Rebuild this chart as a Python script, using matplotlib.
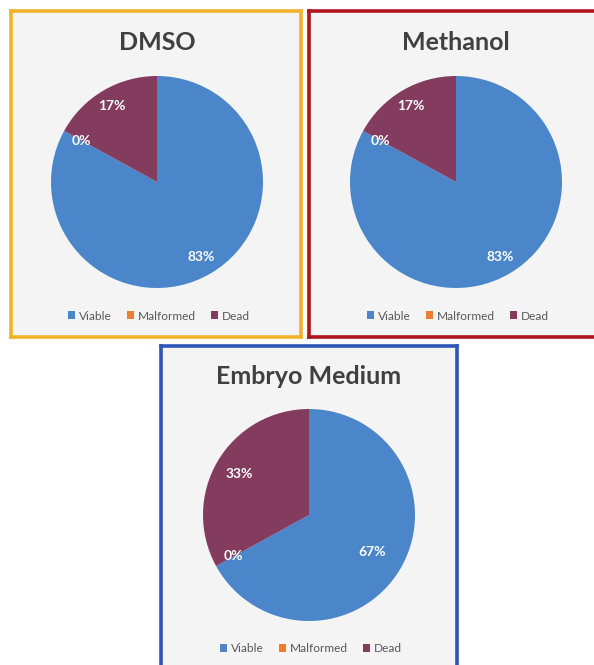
import matplotlib
matplotlib.use("Agg")
import matplotlib.pyplot as plt

plt.rcParams['font.family'] = ['Lato', 'DejaVu Sans']

categories = ['Viable', 'Malformed', 'Dead']
titles = ['DMSO', 'Methanol', 'Embryo Medium']
dmso = [83, 0, 17]
methanol = [83, 0, 17]
embryo = [67, 0, 33]
values = [dmso, methanol, embryo]

colors = ['#4A86C9', '#ED7D31', '#833C5E']
border_colors = ['#F2B32B', '#B0141D', '#2F55B8']

W, H = 594, 665
fig = plt.figure(figsize=(W / 100, H / 100), dpi=100)
fig.patch.set_facecolor('white')

# panel boxes in pixels: left, top, right, bottom
boxes = [(11, 11, 301, 337), (309, 11, 610, 337), (161, 346, 457, 680)]
# pie centre (x, y) and radius in pixels
pies = [(157, 182), (456, 182), (309, 515)]
R = 106
title_y = [43, 43, 376]
legend_y = [316, 316, 649]
label_r = [[0.82, 0.81, 0.83], [0.82, 0.81, 0.83], [0.69, 0.81, 0.76]]


def fx(x):
    return x / W


def fy(y):
    return 1 - y / H


for i in range(3):
    l, t, r, b = boxes[i]
    bg = fig.add_axes([fx(l), fy(b), fx(r) - fx(l), fy(t) - fy(b)])
    bg.set_facecolor('#F4F4F4')
    bg.set_xticks([])
    bg.set_yticks([])
    for s in bg.spines.values():
        s.set_color(border_colors[i])
        s.set_linewidth(2.6)

    cx, cy = pies[i]
    ax = fig.add_axes([fx(cx - R), fy(cy + R), 2 * R / W, 2 * R / H])
    wedges, texts, autotexts = ax.pie(values[i], colors=colors, startangle=90,
                                      counterclock=False, autopct='%1.0f%%',
                                      pctdistance=0.8,
                                      textprops=dict(color='white', fontsize=10,
                                                     fontweight='bold'))
    for j, at in enumerate(autotexts):
        x, y = at.get_position()
        at.set_position((x / 0.8 * label_r[i][j], y / 0.8 * label_r[i][j]))
    ax.set_xlim(-1, 1)
    ax.set_ylim(-1, 1)
    ax.set_aspect('equal')
    ax.axis('off')

    fig.text(fx(cx), fy(title_y[i]), titles[i], ha='center', va='center',
             fontsize=18, fontweight='bold', color='#404040')

    lg = fig.legend(wedges, categories, loc='center',
                    bbox_to_anchor=(fx(cx + 2), fy(legend_y[i])), ncol=3,
                    frameon=False, fontsize=8.6, handlelength=0.6,
                    handleheight=0.6, handletextpad=0.3, columnspacing=1.3)
    for txt in lg.get_texts():
        txt.set_color('#595959')

fig.savefig('out.png', dpi=100)
